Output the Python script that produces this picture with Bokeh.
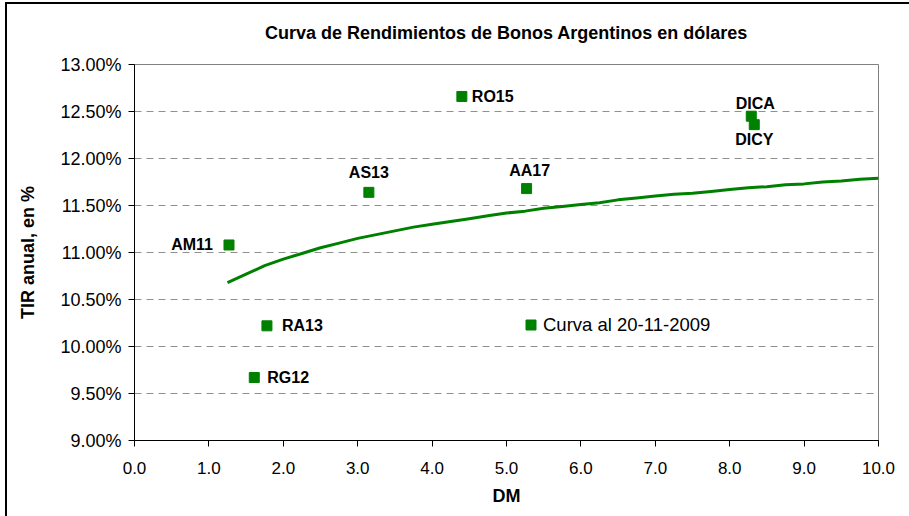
from bokeh.plotting import figure
from bokeh.models import (ColumnDataSource, FixedTicker, PrintfTickFormatter,
                          Legend, LegendItem)
from bokeh.core.properties import value
from bokeh.embed import file_html
from bokeh.resources import INLINE

# ---- data ----
bonds = ["AM11", "RG12", "RA13", "AS13", "RO15", "AA17", "DICA", "DICY"]
dm = [1.27, 1.61, 1.78, 3.15, 4.40, 5.27, 8.29, 8.33]
tir = [11.08, 9.67, 10.22, 11.64, 12.66, 11.68, 12.45, 12.36]

curve_dm = [1.25, 1.5, 1.75, 2.0, 2.25, 2.5, 2.75, 3.0, 3.25, 3.5, 3.75, 4.0,
            4.25, 4.5, 4.75, 5.0, 5.25, 5.5, 5.75, 6.0, 6.25, 6.5, 6.75, 7.0,
            7.25, 7.5, 7.75, 8.0, 8.25, 8.5, 8.75, 9.0, 9.25, 9.5, 9.75, 10.0]
curve_tir = [10.68, 10.77, 10.86, 10.93, 10.99, 11.05, 11.10, 11.15, 11.19,
             11.23, 11.27, 11.30, 11.33, 11.36, 11.39, 11.42, 11.44, 11.47,
             11.49, 11.51, 11.53, 11.56, 11.58, 11.60, 11.62, 11.63, 11.65,
             11.67, 11.69, 11.70, 11.72, 11.73, 11.75, 11.76, 11.78, 11.79]

x_ticks = [0, 1, 2, 3, 4, 5, 6, 7, 8, 9, 10]
y_ticks = [9.0, 9.5, 10.0, 10.5, 11.0, 11.5, 12.0, 12.5, 13.0]

title_text = "Curva de Rendimientos de Bonos Argentinos en dólares"
legend_text = "Curva al 20-11-2009"

# label placement styles (align, x_offset, y_offset)
label_style = {
    "AM11": ("right", -16, 0),
    "RG12": ("left", 13, 0),
    "RA13": ("left", 15, 0),
    "AS13": ("center", 0, -20),
    "RO15": ("left", 10, 0),
    "AA17": ("center", 3, -18),
    "DICA": ("center", 4, -13),
    "DICY": ("center", 0, 15),
}

GREEN = "#008000"
FONT = "Liberation Sans"

p = figure(width=909, height=516, output_backend="svg", toolbar_location=None,
           x_range=(0, 10), y_range=(9, 13),
           min_border_left=134, min_border_right=31,
           min_border_top=64, min_border_bottom=76,
           title=title_text)

# outer chart border (only top and left edges fall inside the picture)
p.styles = {
    "background": ("linear-gradient(#000, #000) 5px 2px / 2px 100% no-repeat, "
                   "linear-gradient(#000, #000) 5px 2px / 100% 2px no-repeat, "
                   "#ffffff"),
}

p.title.align = "center"
p.title.vertical_align = "top"
p.title.text_font = FONT
p.title.text_font_size = "18px"
p.title.text_font_style = "bold"
p.title.text_color = "black"
p.title.standoff = 40

p.outline_line_color = "#808080"
p.outline_line_width = 1
p.background_fill_color = "white"
p.border_fill_alpha = 0

p.xgrid.grid_line_color = None
p.ygrid.grid_line_color = "#909090"
p.ygrid.grid_line_dash = "7 5"
p.ygrid.grid_line_width = 1
p.ygrid.ticker = FixedTicker(ticks=y_ticks)

p.xaxis.ticker = FixedTicker(ticks=x_ticks)
p.yaxis.ticker = FixedTicker(ticks=y_ticks)
p.xaxis.formatter = PrintfTickFormatter(format="%.1f")
p.yaxis.formatter = PrintfTickFormatter(format="%.2f%%")
for ax in (p.xaxis, p.yaxis):
    ax.axis_line_color = "black"
    ax.axis_line_width = 1
    ax.major_tick_line_color = "black"
    ax.major_tick_out = 6
    ax.major_tick_in = 0
    ax.minor_tick_line_color = None
    ax.major_label_text_font = FONT
    ax.major_label_text_color = "black"
    ax.axis_label_text_font = FONT
    ax.axis_label_text_font_size = "18px"
    ax.axis_label_text_font_style = "bold"
    ax.axis_label_text_color = "black"
p.xaxis.major_label_text_font_size = "17px"
p.yaxis.major_label_text_font_size = "18px"
p.xaxis.axis_label = "DM"
p.yaxis.axis_label = "TIR anual, en %"
p.xaxis.major_label_standoff = 15
p.yaxis.major_label_standoff = 7
p.xaxis.axis_label_standoff = 9
p.yaxis.axis_label_standoff = 19

# curve
p.line(curve_dm, curve_tir, line_color=GREEN, line_width=3)

# bonds
src = ColumnDataSource(dict(x=dm, y=tir, name=bonds))
pts = p.scatter("x", "y", source=src, marker="square", size=10,
                fill_color=GREEN, line_color=GREEN)

for b, xv, yv in zip(bonds, dm, tir):
    align, xo, yo = label_style[b]
    p.text([xv], [yv], text=[b], text_align=align, text_baseline="middle",
           x_offset=xo, y_offset=yo, text_font=value(FONT),
           text_font_size="16px", text_font_style="bold", text_color="black")

legend = Legend(items=[LegendItem(label=legend_text, renderers=[pts])],
                location=(384, 103), orientation="vertical",
                border_line_color=None, background_fill_alpha=0,
                padding=0, margin=0, spacing=0,
                glyph_width=25, glyph_height=25, label_standoff=0,
                label_text_font=FONT, label_text_font_size="18.5px",
                label_text_color="black")
p.add_layout(legend, "center")

open("out.html", "w").write(file_html(p, INLINE))
